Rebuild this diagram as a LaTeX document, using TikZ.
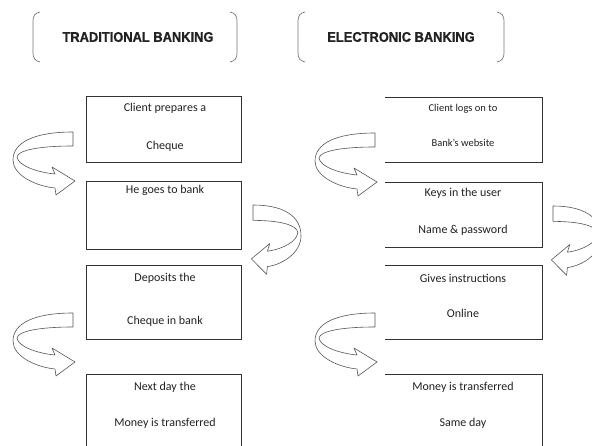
\documentclass[tikz,border=0pt]{standalone}
\usepackage{fontspec}
\setmainfont{Carlito}
\newfontfamily\hdrfont[FakeStretch=0.92,FakeBold=1]{Liberation Sans}
\definecolor{ink}{HTML}{222222}
\definecolor{edge}{HTML}{333333}
\definecolor{arr}{HTML}{555555}
\begin{document}
\begin{tikzpicture}[x=1pt,y=-1pt,
  stepbox/.style={draw=edge,line width=0.9pt,minimum width=155pt,inner sep=0pt},
  txt/.style={text=ink,font=\fontsize{12}{14}\selectfont,inner sep=0pt},
  smalltxt/.style={text=ink,font=\fontsize{10.5}{12}\selectfont,inner sep=0pt},
  hdr/.style={text=ink,font=\hdrfont\bfseries\fontsize{14}{16}\selectfont,inner sep=0pt},
  brk/.style={draw=arr!80,line width=0.7pt},
  arrowline/.style={draw=arr,line width=0.6pt,fill=white,line join=round},
  uarrow/.pic={
    \path[arrowline] (0,0) .. controls (-38,0) and (-60,10) .. (-60,28)
      .. controls (-60,43) and (-38,54) .. (-18,56) -- (-17,63) -- (2,49)
      -- (-21,35) -- (-18,42) .. controls (-38,40) and (-55,33) .. (-56,25)
      .. controls (-55,18) and (-33,14) .. (0,14) -- cycle;
  }]
\useasboundingbox (0,0) rectangle (592,446);
\clip (0,0) rectangle (592,446);
\fill[white] (0,0) rectangle (592,446);

% headers
\node[hdr] (h1) at (138,37) {TRADITIONAL BANKING};
\node[hdr] (h2) at (401,37) {ELECTRONIC BANKING};
\draw[brk] (40,12) .. controls (35,13) and (33,16) .. (33,21) -- (33,53) .. controls (33,58) and (35,61) .. (40,62);
\draw[brk] (230,12) .. controls (235,13) and (237,16) .. (237,21) -- (237,53) .. controls (237,58) and (235,61) .. (230,62);
\draw[brk] (305,12) .. controls (300,13) and (298,16) .. (298,21) -- (298,53) .. controls (298,58) and (300,61) .. (305,62);
\draw[brk] (497,12) .. controls (502,13) and (504,16) .. (504,21) -- (504,53) .. controls (504,58) and (502,61) .. (497,62);

% left column boxes
\node[stepbox,minimum height=66pt] (L1) at (163.5,129) {};
\node[stepbox,minimum height=68pt] (L2) at (163.5,215) {};
\node[stepbox,minimum height=74pt] (L3) at (163.5,302) {};
\node[stepbox,minimum height=100pt] (L4) at (163.5,424) {};
\node[txt] (l1a) at (165,108) {Client prepares a};
\node[txt] (l1b) at (165,146) {Cheque};
\node[txt] (l2a) at (165,190) {He goes to bank};
\node[txt] (l3a) at (165,278) {Deposits the};
\node[txt] (l3b) at (165,321) {Cheque in bank};
\node[txt] (l4a) at (165,387) {Next day the};
\node[txt] (l4b) at (165,423) {Money is transferred};

% right column boxes (no left edge)
\coordinate (R1nw) at (385,97);  \coordinate (R1se) at (542,162);
\coordinate (R2nw) at (385,182); \coordinate (R2se) at (542,247);
\coordinate (R3nw) at (385,265); \coordinate (R3se) at (542,339);
\coordinate (R4nw) at (385,374); \coordinate (R4se) at (542,470);
\foreach \b in {R1,R2,R3,R4}{
  \draw[edge,line width=0.9pt] (\b nw) -- (\b nw -| \b se) -- (\b se) -- (\b se -| \b nw);
}
\node[smalltxt] (r1a) at (463,109) {Client logs on to};
\node[smalltxt] (r1b) at (463,143) {Bank's website};
\node[txt] (r2a) at (463,193) {Keys in the user};
\node[txt] (r2b) at (463,230) {Name \& password};
\node[txt] (r3a) at (463,278) {Gives instructions};
\node[txt] (r3b) at (463,313) {Online};
\node[txt] (r4a) at (463,387) {Money is transferred};
\node[txt] (r4b) at (463,423) {Same day};

% curved block arrows
\pic at (73,132) {uarrow};
\pic at (73,313) {uarrow};
\pic at (375,133) {uarrow};
\pic at (375,313) {uarrow};
\pic[xscale=-0.8,yscale=1.1] at (253,205) {uarrow};
\pic[xscale=-0.8,yscale=1.1] at (553,206) {uarrow};
\end{tikzpicture}
\end{document}
